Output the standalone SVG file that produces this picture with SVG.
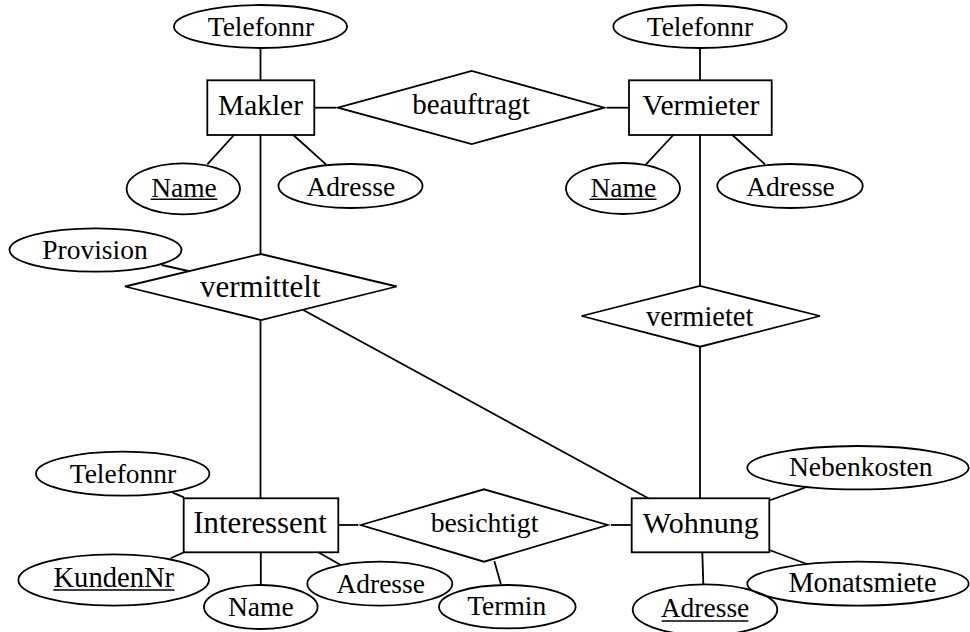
<svg xmlns="http://www.w3.org/2000/svg" width="970" height="632" viewBox="0 0 970 632">
<style>
  .box, ellipse, polygon { fill: none; stroke: #000; stroke-width: 1.8; }
  line { stroke: #000; stroke-width: 1.8; }
  .ul { stroke-width: 1.4; }
  text { font-family: "Liberation Serif", "Times New Roman", serif; fill: #000; text-anchor: middle; }
  .ent { font-size: 30px; }
  .att { font-size: 27.5px; }
</style>
<rect width="970" height="632" style="fill:#fff;stroke:none"/>
<g id="connectors">
  <line x1="260.5" y1="48" x2="260.5" y2="80.3"/>
  <line x1="314.3" y1="107.7" x2="336" y2="107.7"/>
  <line x1="607" y1="107.7" x2="629" y2="107.7"/>
  <line x1="234" y1="135" x2="207.3" y2="164.3"/>
  <line x1="293.3" y1="135" x2="326" y2="164.3"/>
  <line x1="260.5" y1="135" x2="260.5" y2="254"/>
  <line x1="161.7" y1="265" x2="188.3" y2="271"/>
  <line x1="700" y1="48" x2="700" y2="80.3"/>
  <line x1="673.3" y1="135" x2="646" y2="164.3"/>
  <line x1="732.3" y1="135" x2="765" y2="164.3"/>
  <line x1="700" y1="135" x2="700" y2="286"/>
  <line x1="700" y1="346.7" x2="700" y2="498.3"/>
  <line x1="260.5" y1="320" x2="260.5" y2="498.3"/>
  <line x1="303.3" y1="310" x2="648.3" y2="498.3"/>
  <line x1="338.3" y1="525" x2="358" y2="525"/>
  <line x1="611" y1="525" x2="631.7" y2="525"/>
  <line x1="172.7" y1="492.7" x2="184" y2="497.3"/>
  <line x1="170.7" y1="558.3" x2="184" y2="552.3"/>
  <line x1="260.8" y1="552.3" x2="260.8" y2="585"/>
  <line x1="318.3" y1="552.3" x2="340.7" y2="565"/>
  <line x1="494.3" y1="561" x2="501" y2="584.5"/>
  <line x1="769.3" y1="500.5" x2="805" y2="487.7"/>
  <line x1="769.3" y1="550" x2="806.7" y2="564"/>
  <line x1="702.3" y1="552.3" x2="703.3" y2="584.3"/>
</g>
<g id="makler">
  <rect class="box" x="207.3" y="80.3" width="107" height="54.7"/>
  <text class="ent" x="260.5" y="115" style="font-size:29.4px">Makler</text>
</g>
<g id="vermieter">
  <rect class="box" x="629" y="80.3" width="142.7" height="54.7"/>
  <text class="ent" x="700.8" y="115" style="font-size:29.7px">Vermieter</text>
</g>
<g id="interessent">
  <rect class="box" x="183.7" y="498.3" width="154.6" height="54"/>
  <text class="ent" x="260" y="533.3" style="font-size:30.8px">Interessent</text>
</g>
<g id="wohnung">
  <rect class="box" x="631.7" y="498.3" width="137.6" height="54"/>
  <text class="ent" x="700.8" y="533.3">Wohnung</text>
</g>
<g id="beauftragt">
  <polygon points="338,107.7 471.7,71 604.3,107.7 471.7,144"/>
  <text class="ent" x="471" y="113.5" style="font-size:29px">beauftragt</text>
</g>
<g id="vermittelt">
  <polygon points="125,286.5 261,254 396.7,286.5 261,320"/>
  <text class="ent" x="260.3" y="296.7" style="font-size:31px">vermittelt</text>
</g>
<g id="vermietet">
  <polygon points="581.7,316 700,286 820,316 700,346.7"/>
  <text class="ent" x="699.7" y="326" style="font-size:28.4px">vermietet</text>
</g>
<g id="besichtigt">
  <polygon points="360.7,525 484,489.3 607.7,525 484,561.7"/>
  <text class="ent" x="484.5" y="531.7" style="font-size:27.7px">besichtigt</text>
</g>
<g id="makler-telefonnr">
  <ellipse cx="260.5" cy="26.5" rx="86.5" ry="21.5"/>
  <text class="att" x="261" y="36">Telefonnr</text>
</g>
<g id="makler-name">
  <ellipse cx="183.3" cy="188.8" rx="56.7" ry="25.5"/>
  <text class="att" x="184" y="196.7">Name</text>
  <line class="ul" x1="150.7" y1="199.3" x2="217.3" y2="199.3"/>
</g>
<g id="makler-adresse">
  <ellipse cx="350.5" cy="186" rx="72" ry="22"/>
  <text class="att" x="350.8" y="195.7">Adresse</text>
</g>
<g id="vermieter-telefonnr">
  <ellipse cx="700" cy="26.5" rx="86.7" ry="21.5"/>
  <text class="att" x="700" y="36">Telefonnr</text>
</g>
<g id="vermieter-name">
  <ellipse cx="623" cy="188.5" rx="57" ry="25.5"/>
  <text class="att" x="623.3" y="196.7">Name</text>
  <line class="ul" x1="589.5" y1="199.3" x2="656.5" y2="199.3"/>
</g>
<g id="vermieter-adresse">
  <ellipse cx="790" cy="186" rx="72.7" ry="22"/>
  <text class="att" x="790.5" y="195.7">Adresse</text>
</g>
<g id="provision">
  <ellipse cx="95.5" cy="250" rx="86" ry="21.7"/>
  <text class="att" x="95" y="259.3">Provision</text>
</g>
<g id="interessent-telefonnr">
  <ellipse cx="122.7" cy="473.7" rx="86.7" ry="22"/>
  <text class="att" x="123" y="483.3">Telefonnr</text>
</g>
<g id="kundennr">
  <ellipse cx="113.7" cy="580" rx="95.3" ry="25.7"/>
  <text class="att" x="113.8" y="586.7" style="font-size:28.6px">KundenNr</text>
  <line class="ul" x1="53.3" y1="590" x2="174.5" y2="590"/>
</g>
<g id="interessent-name">
  <ellipse cx="260.8" cy="607" rx="56.8" ry="22"/>
  <text class="att" x="260.8" y="615.7">Name</text>
</g>
<g id="interessent-adresse">
  <ellipse cx="379.8" cy="583.7" rx="72.5" ry="22"/>
  <text class="att" x="380.7" y="592.7">Adresse</text>
</g>
<g id="termin">
  <ellipse cx="507.3" cy="606.7" rx="68.3" ry="21.7"/>
  <text class="att" x="506.7" y="615">Termin</text>
</g>
<g id="nebenkosten">
  <ellipse cx="858" cy="467.7" rx="110.7" ry="21.7"/>
  <text class="att" x="860.8" y="476">Nebenkosten</text>
</g>
<g id="monatsmiete">
  <ellipse cx="858" cy="583.7" rx="110.7" ry="22"/>
  <text class="att" x="862.5" y="591.7" style="font-size:28.4px">Monatsmiete</text>
</g>
<g id="wohnung-adresse">
  <ellipse cx="705" cy="609.8" rx="72.3" ry="25.5"/>
  <text class="att" x="705" y="616.7">Adresse</text>
  <line class="ul" x1="661.7" y1="621" x2="748.3" y2="621"/>
</g>
</svg>
